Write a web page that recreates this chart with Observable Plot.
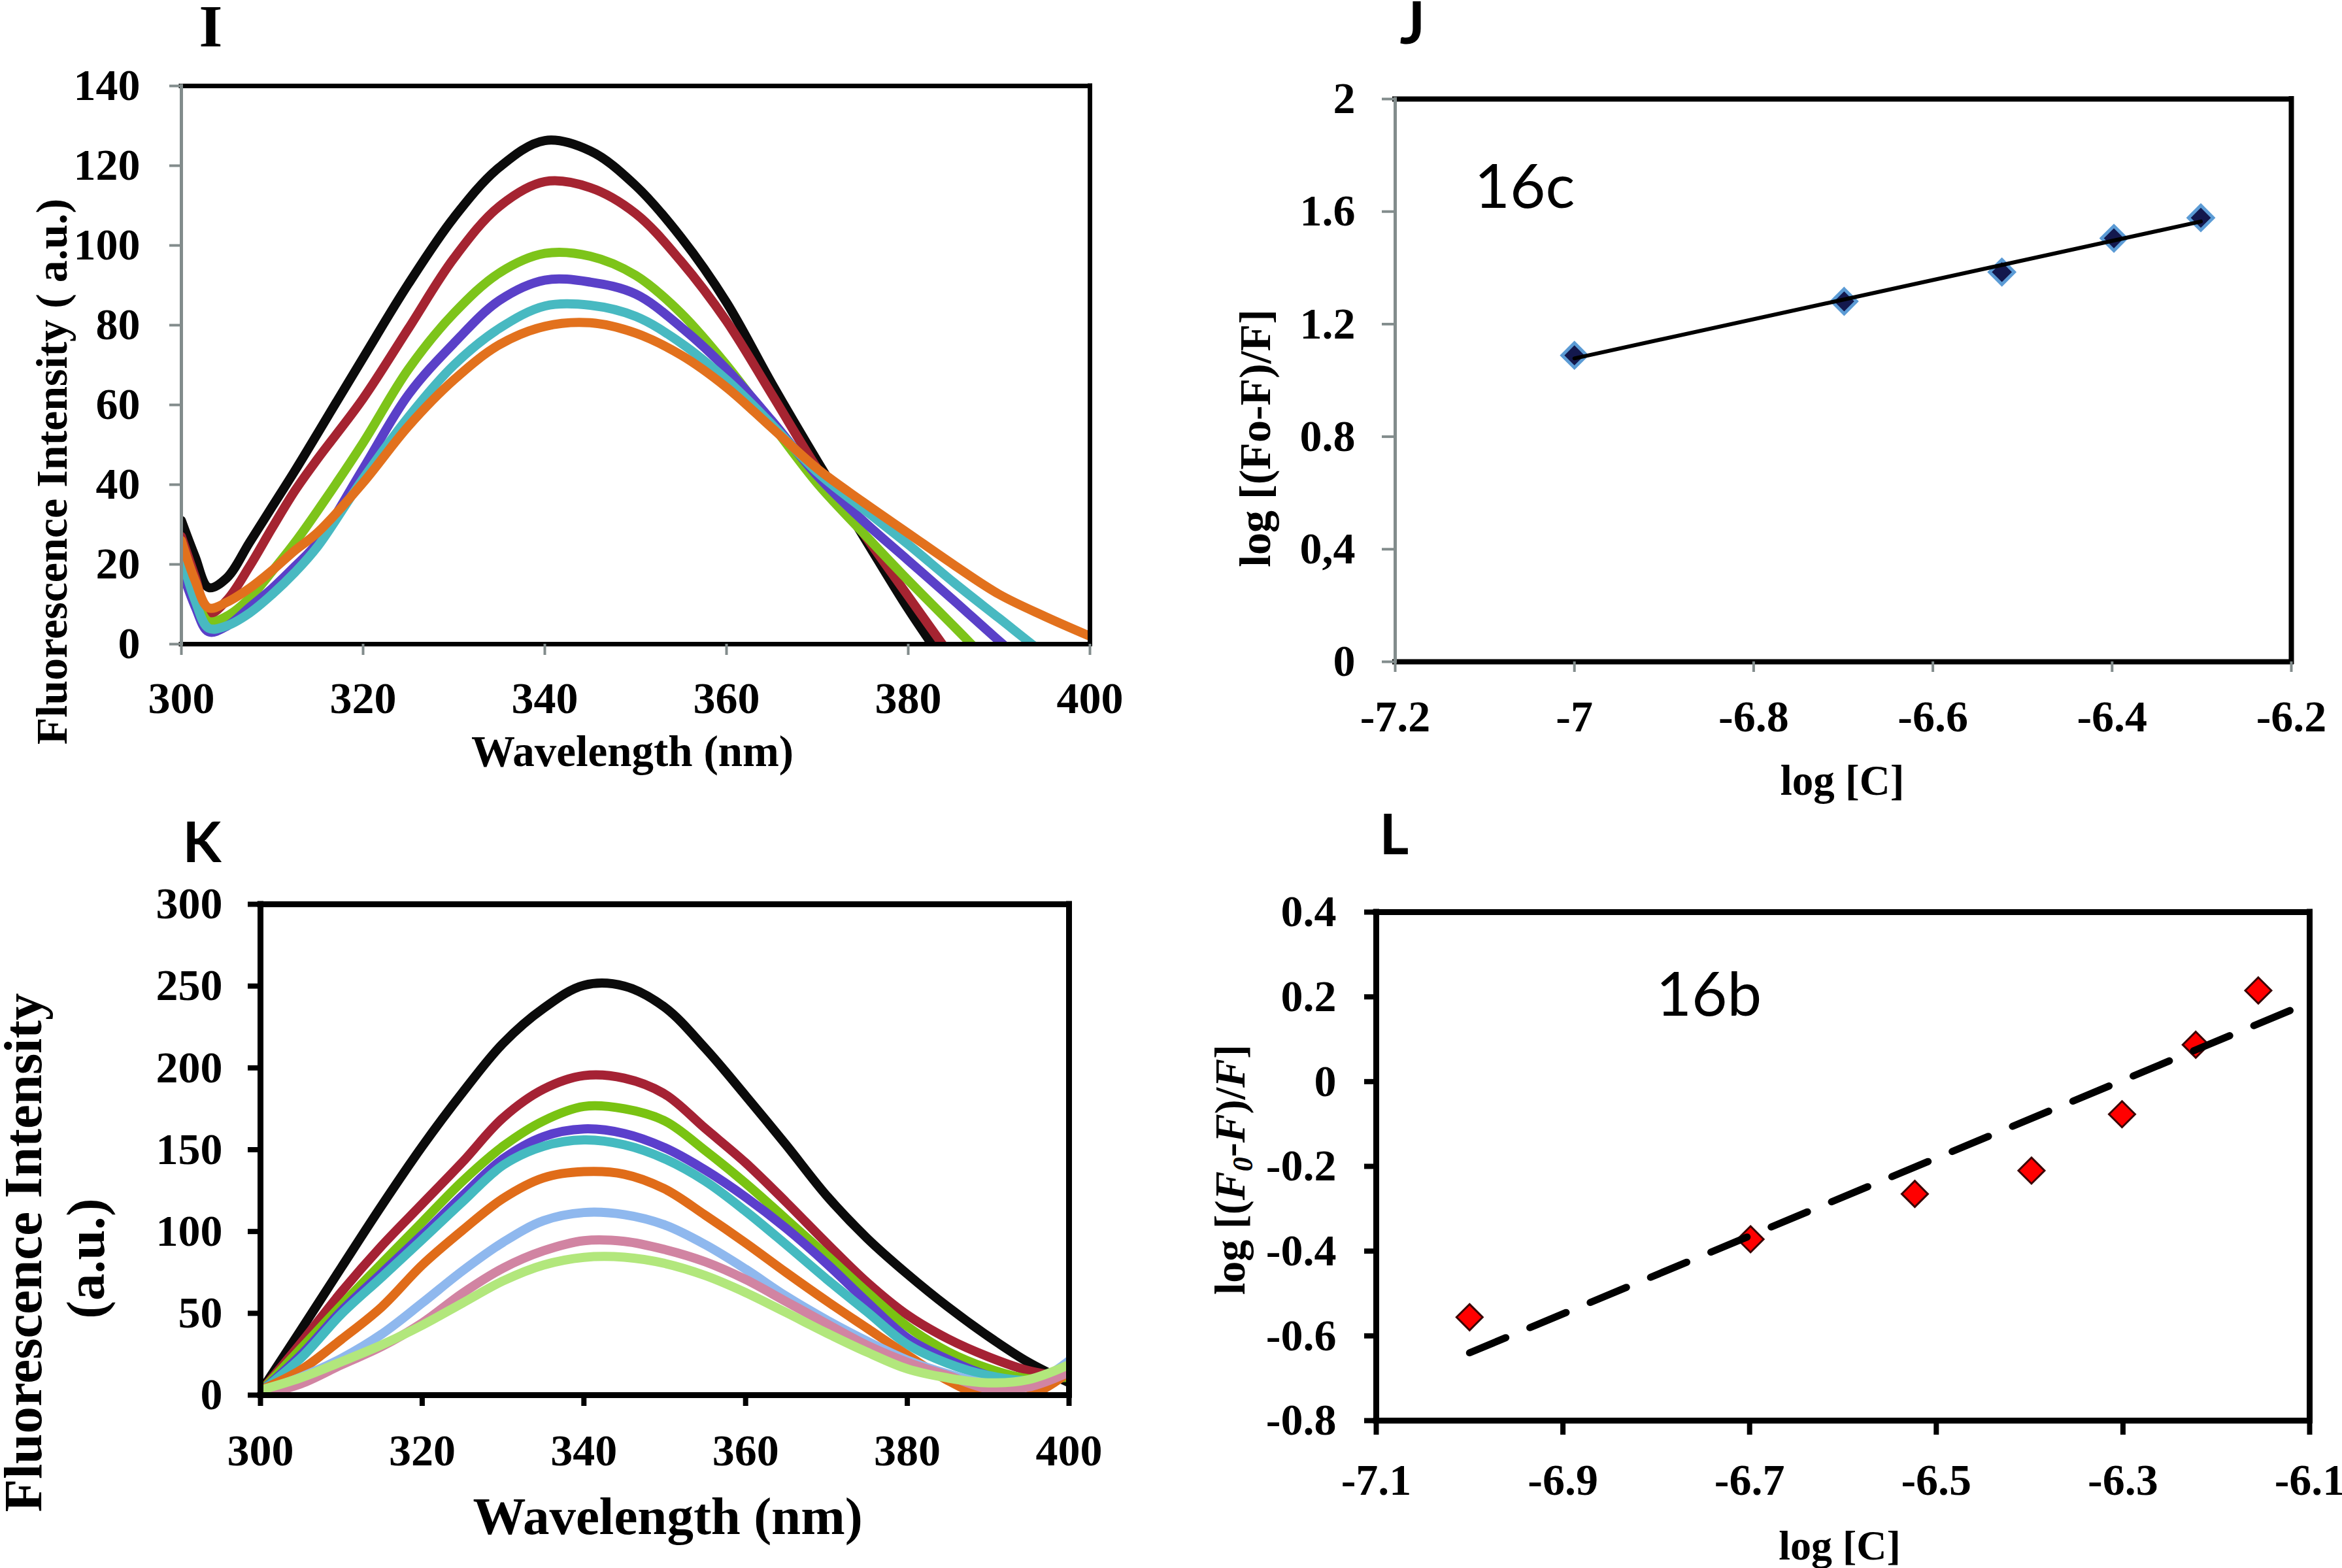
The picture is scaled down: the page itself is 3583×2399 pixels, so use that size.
<!DOCTYPE html>
<html><head><meta charset="utf-8">
<script src="https://cdn.jsdelivr.net/npm/d3@7"></script>
<script src="https://cdn.jsdelivr.net/npm/@observablehq/plot@0.6"></script>
<style>
html,body{margin:0;padding:0;background:#fff;}
#page{position:relative;width:3583px;height:2399px;overflow:hidden;background:#fff;}
.panel{position:absolute;}
.panel svg{overflow:visible;background:transparent;}
</style></head><body><div id="page"></div>
<script>
// ================= DATA =================
// Panel I – fluorescence spectra
const iWavelength = [300, 301.5, 303, 305, 307.5, 310, 312.5, 315, 320, 325, 330, 335, 340, 345, 350, 355, 360, 365, 370, 375, 380, 385, 390, 395, 400];
const iBlack  = [31, 22, 14.2, 16.6, 25.5, 34.5, 43.5, 52.9, 71.8, 90.4, 107, 119.6, 126.3, 123.7, 115, 102, 85.7, 65.3, 45.9, 27.3, 8.8, -8, -25, -40, -55];
const iRed    = [27, 17, 7.6, 11, 19.5, 29.2, 38.5, 46.5, 61.6, 79.2, 96.8, 109.8, 116, 114.5, 108, 96, 81, 62.6, 44, 28, 12, -4, -20, -35, -50];
const iGreen  = [21, 12, 5.7, 7, 11.5, 18.3, 25.5, 33.5, 50.5, 69, 83, 93.1, 98, 97.3, 92.5, 83, 70, 55.1, 40.3, 28, 16, 4.5, -7, -18, -30];
const iPurple = [18.8, 9.5, 3.1, 4.5, 9.2, 14, 19.5, 25.5, 44, 62.6, 75.5, 86.2, 91.3, 90.8, 87.8, 79.5, 69, 56, 42.2, 31, 21, 11, 0.8, -9, -19];
const iCyan   = [22, 11, 4, 4.6, 7.8, 12.5, 18, 24.5, 41.5, 57, 70, 79.2, 84.8, 85, 82.2, 75.5, 66.3, 55.1, 43.1, 34, 25, 15.5, 6.5, -2.5, -11];
const iOrange = [26, 16, 9.1, 10.5, 14, 18.5, 23.5, 28, 40.5, 54.7, 66.3, 75.1, 79.7, 80.6, 78, 72.5, 64.4, 54.2, 44, 35.7, 27.8, 19.9, 12.5, 7, 2];
const iXTicks = [300, 320, 340, 360, 380, 400];
const iXLabels = ["300", "320", "340", "360", "380", "400"];
const iYTicks = [0, 20, 40, 60, 80, 100, 120, 140];
const iYLabels = ["0", "20", "40", "60", "80", "100", "120", "140"];

// Panel J – 16c double log plot
const jLogC = [-7, -6.699, -6.523, -6.398, -6.301];
const jLogF = [1.089, 1.281, 1.385, 1.505, 1.578];
const jXTicks = [-7.2, -7, -6.8, -6.6, -6.4, -6.2];
const jXLabels = ["-7.2", "-7", "-6.8", "-6.6", "-6.4", "-6.2"];
const jYTicks = [0, 0.4, 0.8, 1.2, 1.6, 2];
const jYLabels = ["0", "0,4", "0.8", "1.2", "1.6", "2"];

// Panel K – fluorescence spectra
const kWavelength = [300, 305, 310, 315, 320, 325, 330, 335, 340, 345, 350, 355, 360, 365, 370, 375, 380, 385, 390, 395, 400];
const kBlack      = [2, 39.8, 78, 115.9, 152, 185, 215, 236.4, 250.5, 250, 237, 212, 183, 153, 122, 96, 74, 54, 36, 20, 7.6];
const kRed        = [2, 31.8, 63, 91.3, 116.9, 142.5, 169.5, 187, 195.3, 193.7, 184, 163, 142, 118, 93, 69, 49, 34.5, 23.5, 15, 11];
const kGreen      = [2, 28.4, 54.9, 80.5, 105.7, 130.8, 152.1, 167.6, 176.4, 175, 167.6, 149.5, 129.5, 107.6, 85.5, 63, 42, 26.6, 16.3, 10, 11];
const kPurple     = [2, 24.5, 51.4, 74.6, 97.9, 122, 144.4, 158, 162.7, 159.9, 151.2, 137.6, 121, 102, 80.5, 57, 35, 21.8, 12, 8, 13];
const kCyan       = [2, 22.6, 49.5, 72.1, 95, 118.2, 140.5, 152.1, 156, 153, 144.4, 130.8, 112.4, 92, 71, 51, 31, 19.4, 12, 9, 13];
const kOrange     = [3, 15.4, 34, 53.9, 79.5, 100.8, 120.2, 132.8, 136.6, 135, 126, 110, 93, 75, 57.6, 41, 24.5, 9, -1.5, -0.5, 14];
const kLightBlue  = [2, 11, 22.4, 37.3, 56.3, 76, 93.4, 106.6, 111.6, 110.3, 104, 92, 77, 60.5, 46, 33, 21.4, 13, 7, 6, 21];
const kPink       = [0, 6.9, 18.5, 29.7, 44.1, 62.3, 77.6, 88.2, 94.4, 94, 89, 81.5, 70.7, 57.2, 43.7, 30.5, 20.1, 12, 4, 5, 14];
const kLightGreen = [3, 10.6, 20.4, 30.7, 42.7, 56.3, 69.8, 79.5, 84.2, 84.3, 80.5, 73.1, 62.7, 50.5, 38, 26.3, 16, 10.5, 7.5, 9.5, 18.6];
const kXTicks = [300, 320, 340, 360, 380, 400];
const kXLabels = ["300", "320", "340", "360", "380", "400"];
const kYTicks = [0, 50, 100, 150, 200, 250, 300];
const kYLabels = ["0", "50", "100", "150", "200", "250", "300"];

// Panel L – 16b double log plot
const lLogC = [-7, -6.699, -6.523, -6.398, -6.301, -6.222, -6.155];
const lLogF = [-0.556, -0.372, -0.265, -0.210, -0.077, 0.087, 0.215];
const lTrendC = [-7, -6.1];
const lTrendF = [-0.64, 0.187];
const lXTicks = [-7.1, -6.9, -6.7, -6.5, -6.3, -6.1];
const lXLabels = ["-7.1", "-6.9", "-6.7", "-6.5", "-6.3", "-6.1"];
const lYTicks = [-0.8, -0.6, -0.4, -0.2, 0, 0.2, 0.4];
const lYLabels = ["-0.8", "-0.6", "-0.4", "-0.2", "0", "0.2", "0.4"];

// ================= STYLE / LAYOUT =================
const SERIF = '"Liberation Serif","Times New Roman",serif';
const SANS = 'Lato,"Liberation Sans",sans-serif';
const iColors = ["#0b0b0b", "#a52431", "#7dc41a", "#5a40c8", "#48b9c1", "#e2711d"];
const kColors = ["#0b0b0b", "#a52234", "#79c312", "#5b3fcc", "#44bac0", "#e06c19", "#8fb8ee", "#d184a2", "#b2e77c"];
const GREY = "#828c8c";

function panelBox(left, top, width, height, fL, fT, fR, fB) {
  return {left, top, width, height, ml: fL - left, mt: fT - top, mr: left + width - fR, mb: top + height - fB};
}
const boxI = panelBox(0, 0, 1790, 1200, 277, 131, 1667, 985);
const boxJ = panelBox(1800, 0, 1783, 1250, 2134, 151, 3505, 1012);
const boxK = panelBox(0, 1230, 1790, 1169, 398, 1383, 1635, 2134);
const boxL = panelBox(1800, 1230, 1783, 1169, 2105, 1395, 3533, 2173);

function label(box, text, ax, ay, o = {}) {
  return Plot.text([text], {
    text: d => d, frameAnchor: "top-left",
    dx: ax - box.left - box.ml, dy: ay - box.top - box.mt,
    textAnchor: o.anchor || "middle", lineAnchor: "bottom",
    rotate: o.rotate || 0, fontSize: o.size || 68,
    fontWeight: o.weight || "bold", fontFamily: o.family || SERIF, fill: "black"
  });
}

function axes(xTicks, xLabels, yTicks, yLabels, a) {
  const common = {stroke: a.tick, strokeWidth: a.tickW, fill: "black", fontSize: 68, fontWeight: "bold", fontFamily: SERIF, label: null};
  return [
    Plot.axisX({...common, ticks: xTicks, tickFormat: d => xLabels[xTicks.indexOf(d)], tickSize: a.xSize, tickPadding: a.xPad}),
    Plot.axisY({...common, ticks: yTicks, tickFormat: d => yLabels[yTicks.indexOf(d)], tickSize: a.ySize, tickPadding: a.yPad})
  ];
}

function frame(xDom, yDom, w, leftColor, leftW) {
  const o = {stroke: "black", strokeWidth: w, strokeLinecap: "square"};
  return [
    Plot.ruleY([yDom[0]], o),
    Plot.ruleY([yDom[1]], o),
    Plot.ruleX([xDom[1]], o),
    Plot.ruleX([xDom[0]], {stroke: leftColor, strokeWidth: leftW, strokeLinecap: "square"})
  ];
}

function tidy(xs, seriesList) {
  return seriesList.flatMap((vals, k) => xs.map((x, j) => ({x, y: vals[j], s: "s" + k})));
}

function mount(svg, box) {
  const d = document.createElement("div");
  d.className = "panel";
  d.style.left = box.left + "px"; d.style.top = box.top + "px";
  d.style.width = box.width + "px"; d.style.height = box.height + "px";
  d.appendChild(svg);
  document.getElementById("page").appendChild(d);
}

function makePlot(box, xDom, yDom, marks, color) {
  return Plot.plot({
    width: box.width, height: box.height,
    marginLeft: box.ml, marginRight: box.mr, marginTop: box.mt, marginBottom: box.mb,
    x: {domain: xDom}, y: {domain: yDom},
    ...(color ? {color} : {}),
    style: {background: "transparent", overflow: "visible"},
    marks
  });
}

// ================= PANEL I =================
{
  const xDom = [300, 400], yDom = [0, 140];
  const rows = tidy(iWavelength, [iBlack, iRed, iGreen, iPurple, iCyan, iOrange]);
  const names = iColors.map((c, k) => "s" + k);
  const svg = makePlot(boxI, xDom, yDom, [
    Plot.line(rows, {x: "x", y: "y", z: "s", stroke: "s", strokeWidth: 14, strokeLinejoin: "round", curve: "catmull-rom", clip: true}),
    ...frame(xDom, yDom, 7, GREY, 5),
    ...axes(iXTicks, iXLabels, iYTicks, iYLabels, {tick: GREY, tickW: 4, xSize: 17, xPad: 40, ySize: 18, yPad: 45}),
    label(boxI, "I", 304, 70, {anchor: "start", size: 92}),
    label(boxI, "Fluorescence Intensity ( a.u.)", 101, 721, {rotate: -90, size: 68}),
    label(boxI, "Wavelength (nm)", 967, 1171, {size: 67})
  ], {domain: names, range: iColors});
  mount(svg, boxI);
}

// ================= PANEL J =================
{
  const xDom = [-7.2, -6.2], yDom = [0, 2];
  const rows = jLogC.map((c, i) => ({c, f: jLogF[i]}));
  const svg = makePlot(boxJ, xDom, yDom, [
    ...frame(xDom, yDom, 8, GREY, 5),
    ...axes(jXTicks, jXLabels, jYTicks, jYLabels, {tick: GREY, tickW: 4, xSize: 16, xPad: 42, ySize: 20, yPad: 41}),
    Plot.dot(rows, {x: "c", y: "f", symbol: "diamond2", r: 17, fill: "#13184d", stroke: "#5b9bd5", strokeWidth: 5}),
    Plot.linearRegressionY(rows, {x: "c", y: "f", stroke: "black", strokeWidth: 6, ci: 0}),
    label(boxJ, "J", 2141, 66, {anchor: "start", size: 90, family: SANS}),
    label(boxJ, "16c", 2255, 317, {anchor: "start", size: 94, family: SANS, weight: "normal"}),
    label(boxJ, "log [(Fo-F)/F]", 1942, 670, {rotate: -90, size: 68}),
    label(boxJ, "log [C]", 2818, 1215, {size: 65})
  ]);
  mount(svg, boxJ);
}

// ================= PANEL K =================
{
  const xDom = [300, 400], yDom = [0, 300];
  const rows = tidy(kWavelength, [kBlack, kRed, kGreen, kPurple, kCyan, kOrange, kLightBlue, kPink, kLightGreen]);
  const names = kColors.map((c, k) => "s" + k);
  const svg = makePlot(boxK, xDom, yDom, [
    Plot.line(rows, {x: "x", y: "y", z: "s", stroke: "s", strokeWidth: 14, strokeLinejoin: "round", curve: "catmull-rom", clip: true}),
    ...frame(xDom, yDom, 9, "black", 9),
    ...axes(kXTicks, kXLabels, kYTicks, kYLabels, {tick: "black", tickW: 8, xSize: 17, xPad: 42, ySize: 19, yPad: 39}),
    label(boxK, "K", 279, 1318, {anchor: "start", size: 86, family: SANS}),
    label(boxK, "Fluorescence Intensity", 62, 1916, {rotate: -90, size: 83}),
    label(boxK, "(a.u.)", 158, 1925, {rotate: -90, size: 83}),
    label(boxK, "Wavelength (nm)", 1021, 2346, {size: 81})
  ], {domain: names, range: kColors});
  mount(svg, boxK);
}

// ================= PANEL L =================
{
  const xDom = [-7.1, -6.1], yDom = [-0.8, 0.4];
  const rows = lLogC.map((c, i) => ({c, f: lLogF[i]}));
  const trend = lTrendC.map((c, i) => ({c, f: lTrendF[i]}));
  const LTITLE = "log [(F0-F)/F]";
  const svg = makePlot(boxL, xDom, yDom, [
    ...frame(xDom, yDom, 9, "black", 9),
    ...axes(lXTicks, lXLabels, lYTicks, lYLabels, {tick: "black", tickW: 8, xSize: 22, xPad: 43, ySize: 18, yPad: 43}),
    Plot.dot(rows, {x: "c", y: "f", symbol: "diamond2", r: 18, fill: "#ff0000", stroke: "#3a0505", strokeWidth: 3}),
    Plot.line(trend, {x: "c", y: "f", stroke: "black", strokeWidth: 11, strokeDasharray: "60,40"}),
    label(boxL, "L", 2110, 1306, {anchor: "start", size: 86, family: SANS}),
    label(boxL, "16b", 2533, 1553, {anchor: "start", size: 94, family: SANS, weight: "normal"}),
    label(boxL, LTITLE, 1903, 1789, {rotate: -90, size: 66}),
    label(boxL, "log [C]", 2814, 2385, {size: 64})
  ]);
  // rich text for the y title: italic F and subscript 0
  svg.querySelectorAll("text").forEach(t => {
    if (t.textContent === LTITLE) {
      while (t.firstChild) t.removeChild(t.firstChild);
      const NS = "http://www.w3.org/2000/svg";
      const parts = [
        ["log [(", {}], ["F", {"font-style": "italic"}],
        ["0", {"font-style": "italic", "font-size": "44", "dy": "12"}],
        ["-", {"dy": "-12"}], ["F", {"font-style": "italic"}],
        [")/", {}], ["F", {"font-style": "italic"}], ["]", {}]
      ];
      parts.forEach(([s, attrs]) => {
        const ts = document.createElementNS(NS, "tspan");
        Object.entries(attrs).forEach(([k, v]) => ts.setAttribute(k, v));
        ts.textContent = s;
        t.appendChild(ts);
      });
    }
  });
  mount(svg, boxL);
}
</script>
</body></html>
